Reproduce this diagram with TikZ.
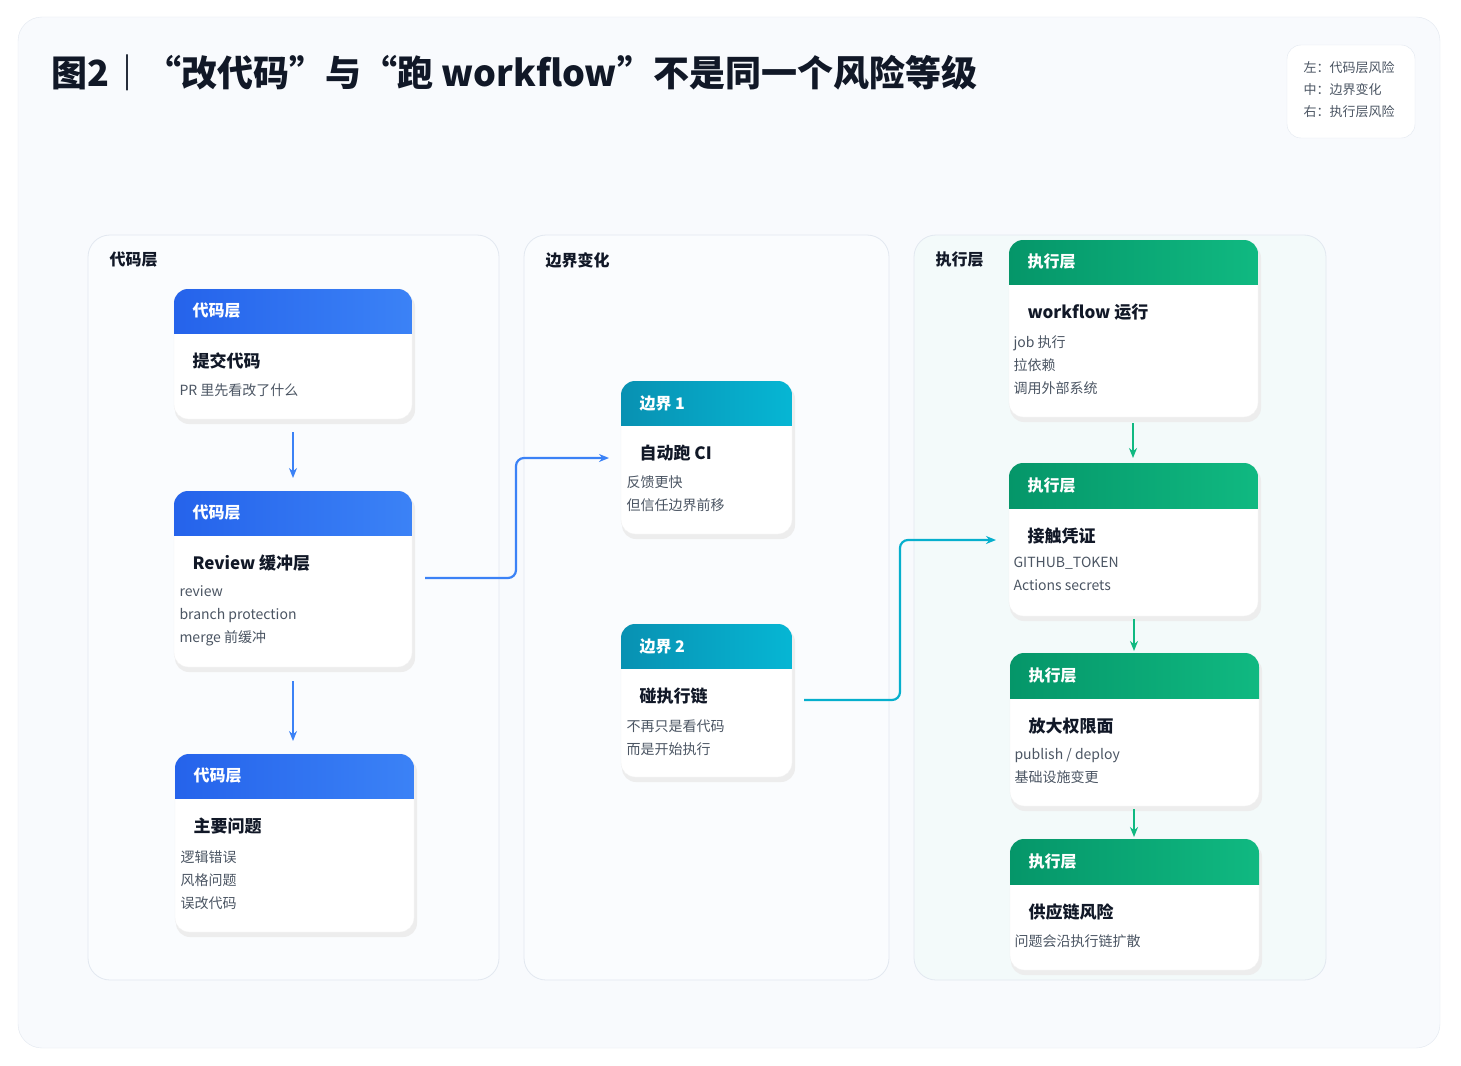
\documentclass[tikz,border=0pt]{standalone}
\usepackage{fontspec}
\setmainfont{Noto Sans CJK SC}
\usetikzlibrary{arrows.meta}
\definecolor{bA}{HTML}{2563EB}\definecolor{bB}{HTML}{3B82F6}
\definecolor{cA}{HTML}{0891B2}\definecolor{cB}{HTML}{06B6D4}
\definecolor{gA}{HTML}{059669}\definecolor{gB}{HTML}{10B981}
\definecolor{txt}{HTML}{111827}\definecolor{sub}{HTML}{4B5563}
\definecolor{bord}{HTML}{E2E8F0}
\definecolor{bgA}{HTML}{F8FAFD}\definecolor{bgP}{HTML}{FAFCFE}\definecolor{bgG}{HTML}{F3FAFA}
\tikzset{
 panel/.style={draw=bord,line width=0.8pt,rounded corners=22},
 htxt/.style={anchor=west,text=white,font=\fontsize{16}{18}\selectfont\bfseries},
 ttxt/.style={anchor=west,text=txt,font=\fontsize{17}{20}\selectfont\bfseries},
 ltxt/.style={anchor=north west,text=sub,align=left,font=\fontsize{14}{23}\selectfont},
 plab/.style={anchor=west,text=txt,font=\fontsize{16}{18}\selectfont\bfseries},
 conn/.style={line width=2.2pt,rounded corners=8,-{Stealth[length=10pt,width=8pt]}},
}
\newcommand\mkcard[9]{%
 \fill[black!7,rounded corners=14] (#1+1,#2+4) rectangle (#3+3,#4+5);
 \fill[white,draw=black!6,rounded corners=14] (#1,#2) rectangle (#3,#4);
 \begin{scope}\clip[rounded corners=14] (#1,#2) rectangle (#3,#4);
 \shade[left color=#6,right color=#7] (#1,#2) rectangle (#3,#5);\end{scope}
 \node[htxt] at (#1+15,{(#2+#5)/2}) {#8};
 \node[ttxt] at (#1+15,#5+28) {#9};
}
\begin{document}
\begin{tikzpicture}[x=1pt,y=-1pt]
\useasboundingbox (0,0) rectangle (1461,1065);
\fill[white] (0,0) rectangle (1461,1065);
\fill[bgA,draw=bord,rounded corners=24] (18,17) rectangle (1440,1048);
\node[anchor=west,text=txt,font=\fontsize{36}{40}\selectfont\bfseries] (title) at (48,73) {图2｜“改代码”与“跑 workflow”不是同一个风险等级};
\fill[white,draw=bord,rounded corners=14] (1287,45) rectangle (1415,138);
\node[anchor=north west,text=sub,align=left,font=\fontsize{13}{22}\selectfont] (legend) at (1300,58) {左：代码层风险\\中：边界变化\\右：执行层风险};
\draw[panel,fill=bgP] (88,235) rectangle (499,980);
\draw[panel,fill=bgP] (524,235) rectangle (889,980);
\draw[panel,fill=bgG] (914,235) rectangle (1326,980);
\node[plab] (p1) at (106,260) {代码层};
\node[plab] (p2) at (542,260) {边界变化};
\node[plab] (p3) at (932,260) {执行层};
\mkcard{174}{289}{412}{419}{333}{bA}{bB}{代码层}{提交代码}
\node[ltxt] (b1) at (176,380) {PR 里先看改了什么};
\mkcard{174}{491}{412}{667}{535}{bA}{bB}{代码层}{Review 缓冲层}
\node[ltxt] (b2) at (176,582) {review\\branch protection\\merge 前缓冲};
\mkcard{175}{754}{414}{932}{798}{bA}{bB}{代码层}{主要问题}
\node[ltxt] (b3) at (177,847) {逻辑错误\\风格问题\\误改代码};
\mkcard{621}{381}{792}{534}{425}{cA}{cB}{边界 1}{自动跑 CI}
\node[ltxt] (m1) at (623,472) {反馈更快\\但信任边界前移};
\mkcard{621}{624}{792}{777}{668}{cA}{cB}{边界 2}{碰执行链}
\node[ltxt] (m2) at (623,716) {不再只是看代码\\而是开始执行};
\mkcard{1009}{240}{1258}{417}{284}{gA}{gB}{执行层}{workflow 运行}
\node[ltxt] (g1) at (1010,332) {job 执行\\拉依赖\\调用外部系统};
\mkcard{1009}{463}{1258}{616}{508}{gA}{gB}{执行层}{接触凭证}
\node[ltxt] (g2) at (1010,554) {GITHUB\_TOKEN\\Actions secrets};
\mkcard{1010}{653}{1259}{806}{698}{gA}{gB}{执行层}{放大权限面}
\node[ltxt] (g3) at (1011,745) {publish / deploy\\基础设施变更};
\mkcard{1010}{839}{1259}{970}{884}{gA}{gB}{执行层}{供应链风险}
\node[ltxt] (g4) at (1011,931) {问题会沿执行链扩散};
\coordinate (a1s) at (293,432); \coordinate (a1e) at (293,478);
\coordinate (a2s) at (293,681); \coordinate (a2e) at (293,741);
\coordinate (bxs) at (425,578); \coordinate (bxe) at (609,458);
\coordinate (cxs) at (804,700); \coordinate (cxe) at (996,540);
\coordinate (g1s) at (1133,423); \coordinate (g1e) at (1133,458);
\coordinate (g2s) at (1134,619); \coordinate (g2e) at (1134,651);
\coordinate (g3s) at (1134,809); \coordinate (g3e) at (1134,837);
\draw[conn,bB] (bxs) -| (516,518) |- (bxe);
\draw[conn,cB!80!cA] (cxs) -| (900,620) |- (cxe);
\draw[conn,bB] (a1s) -- (a1e);
\draw[conn,bB] (a2s) -- (a2e);
\draw[conn,gB] (g1s) -- (g1e);
\draw[conn,gB] (g2s) -- (g2e);
\draw[conn,gB] (g3s) -- (g3e);
\end{tikzpicture}
\end{document}
